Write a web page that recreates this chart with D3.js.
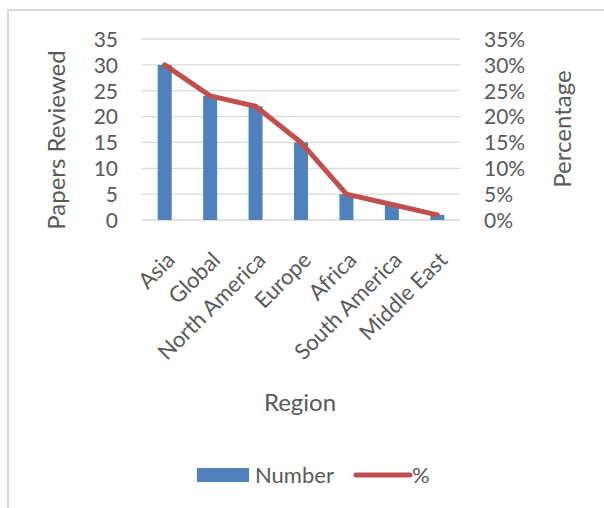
<!DOCTYPE html>
<html>
<head>
<meta charset="utf-8">
<script src="https://cdn.jsdelivr.net/npm/d3@7"></script>
<style>
  body { margin: 0; background: #fff; }
  text { font-family: Lato, "Open Sans", sans-serif; fill: #595959; }
</style>
</head>
<body>
<script>
// chart data
const regions = ["Asia", "Global", "North America", "Europe", "Africa", "South America", "Middle East"];
const numbers = [30, 24, 22, 15, 5, 3, 1];
const percents = [0.30, 0.24, 0.22, 0.15, 0.05, 0.03, 0.01];
const countTicks = [0, 5, 10, 15, 20, 25, 30, 35];
const pctTicks = [0, 0.05, 0.10, 0.15, 0.20, 0.25, 0.30, 0.35];

const width = 604, height = 508;
const plot = { left: 142, right: 460, top: 39, bottom: 220 };

const svg = d3.select("body").append("svg")
  .attr("width", width)
  .attr("height", height);

// outer chart border (cut off at right and bottom)
svg.append("path")
  .attr("d", `M8,${height + 5} V10 H${width + 5}`)
  .attr("fill", "none")
  .attr("stroke", "#d9d9d9")
  .attr("stroke-width", 2);

const x = d3.scaleBand()
  .domain(regions)
  .range([plot.left, plot.right]);

const yLeft = d3.scaleLinear().domain([0, 35]).range([plot.bottom, plot.top]);
const yRight = d3.scaleLinear().domain([0, 0.35]).range([plot.bottom, plot.top]);

// gridlines
svg.append("g").selectAll("line")
  .data(countTicks)
  .join("line")
  .attr("x1", plot.left)
  .attr("x2", plot.right)
  .attr("y1", d => yLeft(d))
  .attr("y2", d => yLeft(d))
  .attr("stroke", "#d9d9d9")
  .attr("stroke-width", 1.3);

// left axis
const leftAxis = svg.append("g")
  .attr("transform", `translate(${plot.left - 24},0)`)
  .call(d3.axisLeft(yLeft).tickValues(countTicks).tickSize(0).tickPadding(0));
leftAxis.select(".domain").remove();
leftAxis.selectAll("text").attr("font-size", 21).attr("dy", "0.35em");

// right axis
const rightAxis = svg.append("g")
  .attr("transform", `translate(${plot.right + 24},0)`)
  .call(d3.axisRight(yRight).tickValues(pctTicks).tickSize(0).tickPadding(0)
    .tickFormat(d3.format(".0%")));
rightAxis.select(".domain").remove();
rightAxis.selectAll("text").attr("font-size", 21).attr("dy", "0.35em");

// bars
const barWidth = 14;
svg.append("g").selectAll("rect")
  .data(regions)
  .join("rect")
  .attr("x", (d) => x(d) + x.bandwidth() / 2 - barWidth / 2)
  .attr("y", (d, i) => yLeft(numbers[i]))
  .attr("width", barWidth)
  .attr("height", (d, i) => plot.bottom - yLeft(numbers[i]))
  .attr("fill", "#4f81bd");

// percentage line
const line = d3.line()
  .x((d, i) => x(regions[i]) + x.bandwidth() / 2)
  .y((d) => yRight(d));

svg.append("path")
  .datum(percents)
  .attr("d", line)
  .attr("fill", "none")
  .attr("stroke", "#c0504d")
  .attr("stroke-width", 5)
  .attr("stroke-linejoin", "round")
  .attr("stroke-linecap", "round");

// category labels
svg.append("g").selectAll("text")
  .data(regions)
  .join("text")
  .attr("transform", (d) => `translate(${x(d) + x.bandwidth() / 2 + 6},${plot.bottom + 36}) rotate(-45)`)
  .attr("text-anchor", "end")
  .attr("dy", "0.35em")
  .attr("font-size", 22)
  .text((d) => d);

// axis titles
svg.append("text")
  .attr("transform", "translate(65,140) rotate(-90)")
  .attr("text-anchor", "middle")
  .attr("font-size", 24)
  .text("Papers Reviewed");

svg.append("text")
  .attr("transform", "translate(571,129) rotate(-90)")
  .attr("text-anchor", "middle")
  .attr("font-size", 24)
  .text("Percentage");

svg.append("text")
  .attr("x", 300)
  .attr("y", 411)
  .attr("text-anchor", "middle")
  .attr("font-size", 24)
  .text("Region");

// legend
const legend = svg.append("g");
legend.append("rect")
  .attr("x", 197).attr("y", 468)
  .attr("width", 52).attr("height", 14)
  .attr("fill", "#4f81bd");
legend.append("text")
  .attr("x", 255).attr("y", 483)
  .attr("font-size", 22)
  .text("Number");
legend.append("line")
  .attr("x1", 356).attr("x2", 410)
  .attr("y1", 475).attr("y2", 475)
  .attr("stroke", "#c0504d")
  .attr("stroke-width", 5)
  .attr("stroke-linecap", "round");
legend.append("text")
  .attr("x", 412).attr("y", 483)
  .attr("font-size", 22)
  .text("%");
</script>
</body>
</html>
